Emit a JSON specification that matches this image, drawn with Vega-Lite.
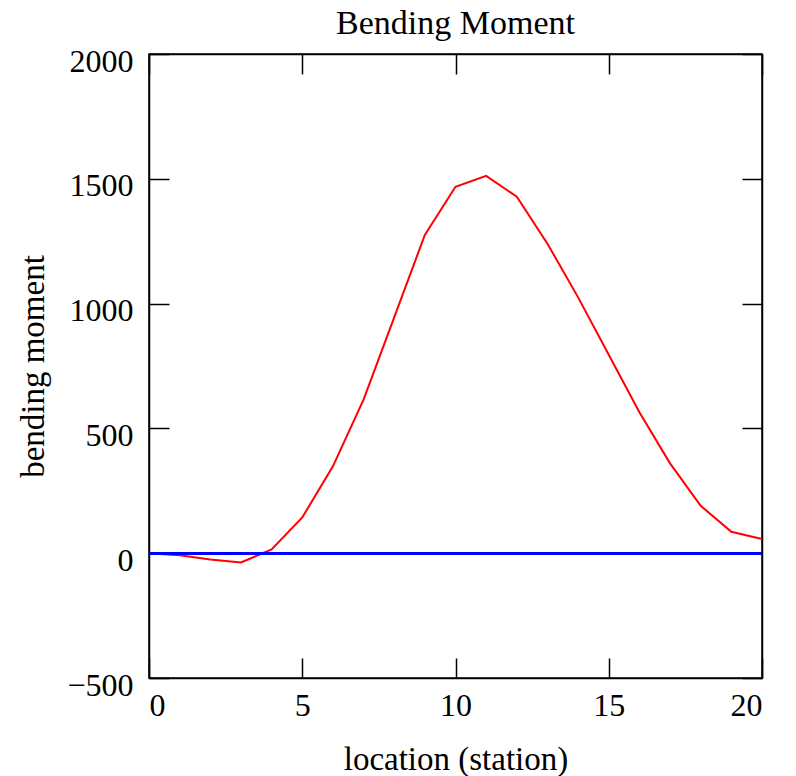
{
  "$schema": "https://vega.github.io/schema/vega-lite/v6.json",
  "width": 613,
  "height": 624,
  "autosize": "none",
  "padding": {"left": 149, "top": 54, "right": 34, "bottom": 98},
  "background": "white",
  "title": {"text": "Bending Moment", "font": "Liberation Serif", "fontSize": 34, "fontWeight": "normal", "color": "black", "anchor": "middle", "offset": -23, "baseline": "alphabetic"},
  "config": {
    "view": {"stroke": "black", "strokeWidth": 1.5},
    "axis": {"labelFont": "Liberation Serif", "titleFont": "Liberation Serif", "labelFontSize": 32, "titleFontSize": 33, "titleFontWeight": "normal", "labelColor": "black", "titleColor": "black", "grid": false, "domainColor": "black", "tickColor": "black", "tickWidth": 1.5, "domainWidth": 1.5, "tickSize": -20, "format": "d"}
  },
  "data": {"values": [
    {"station": 0, "moment": 0},
    {"station": 1, "moment": -8},
    {"station": 2, "moment": -25},
    {"station": 3, "moment": -37},
    {"station": 4, "moment": 15},
    {"station": 5, "moment": 143},
    {"station": 6, "moment": 348},
    {"station": 7, "moment": 615},
    {"station": 8, "moment": 945},
    {"station": 9, "moment": 1275},
    {"station": 10, "moment": 1468},
    {"station": 11, "moment": 1512},
    {"station": 12, "moment": 1428},
    {"station": 13, "moment": 1240},
    {"station": 14, "moment": 1025},
    {"station": 15, "moment": 795},
    {"station": 16, "moment": 565},
    {"station": 17, "moment": 360},
    {"station": 18, "moment": 190},
    {"station": 19, "moment": 86},
    {"station": 20, "moment": 57}
  ]},
  "layer": [
    {
      "mark": {"type": "line", "color": "#ff0000", "strokeWidth": 2},
      "encoding": {
        "x": {"field": "station", "type": "quantitative", "scale": {"domain": [0, 20], "nice": false, "zero": false},
              "axis": {"title": "location (station)", "values": [0, 5, 10, 15, 20], "labelPadding": 32, "titlePadding": 22}},
        "y": {"field": "moment", "type": "quantitative", "scale": {"domain": [-500, 2000], "nice": false},
              "axis": {"title": "bending moment", "values": [-500, 0, 500, 1000, 1500, 2000], "labelOffset": 7, "labelPadding": 36, "titlePadding": 16}}
      }
    },
    {
      "mark": {"type": "rule", "color": "#0000ff", "strokeWidth": 2},
      "encoding": {
        "x": {"datum": 0, "type": "quantitative", "axis": {"orient": "top", "labels": false, "title": null, "values": [0, 5, 10, 15, 20]}},
        "x2": {"datum": 20},
        "y": {"datum": 0, "type": "quantitative", "axis": {"orient": "right", "labels": false, "title": null, "values": [-500, 0, 500, 1000, 1500, 2000]}}
      }
    }
  ],
  "resolve": {"axis": {"x": "independent", "y": "independent"}}
}
